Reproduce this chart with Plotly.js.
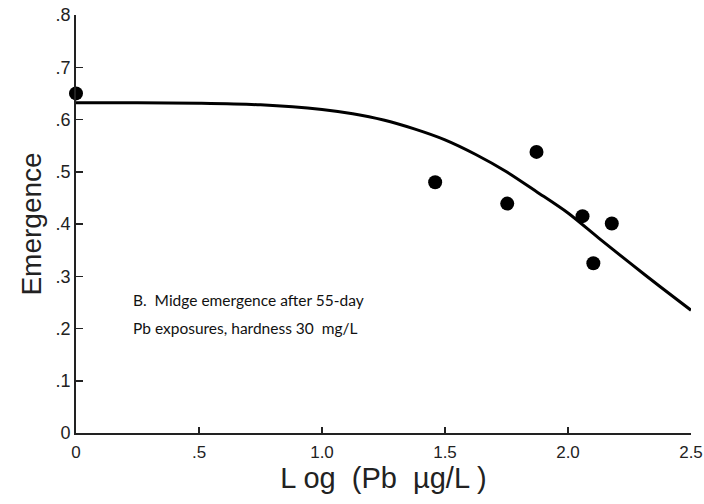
<!DOCTYPE html>
<html>
<head>
<meta charset="utf-8">
<script src="https://cdn.plot.ly/plotly-3.0.1.min.js"></script>
<style>html,body{margin:0;padding:0;background:#fff;}#chart{width:704px;height:504px;}</style>
</head>
<body>
<div id="chart"></div>
<script>
// Observed emergence data
const obsX = [0, 1.46, 1.753, 1.872, 2.059, 2.103, 2.178];
const obsY = [0.650, 0.480, 0.439, 0.538, 0.415, 0.325, 0.401];

// Fitted curve
const fitX = [0, 0.25, 0.5, 0.75, 1.0, 1.125, 1.25, 1.375, 1.5, 1.625, 1.75, 1.875, 2.0, 2.125, 2.25, 2.375, 2.5];
const fitY = [0.632, 0.632, 0.631, 0.628, 0.619, 0.611, 0.599, 0.582, 0.561, 0.533, 0.500, 0.461, 0.421, 0.373, 0.326, 0.280, 0.235];

const xTickVals = [0, 0.5, 1.0, 1.5, 2.0, 2.5];
const xTickText = ['0', '.5', '1.0', '1.5', '2.0', '2.5'];
const yTickVals = [0, 0.1, 0.2, 0.3, 0.4, 0.5, 0.6, 0.7, 0.8];
const yTickText = ['0', '.1', '.2', '.3', '.4', '.5', '.6', '.7', '.8'];

const noteLines = ['B.  Midge emergence after 55-day', 'Pb exposures, hardness 30  mg/L'];
const noteY = [0.255, 0.201];

const traces = [
  {x: fitX, y: fitY, type: 'scatter', mode: 'lines', line: {color: '#000', width: 3, shape: 'spline', smoothing: 0.8}, hoverinfo: 'skip', cliponaxis: false},
  {x: obsX, y: obsY, type: 'scatter', mode: 'markers', marker: {color: '#000', size: 14}, cliponaxis: false}
];

const layout = {
  width: 704, height: 504,
  margin: {l: 76, r: 13, t: 15, b: 71},
  paper_bgcolor: '#fff', plot_bgcolor: '#fff',
  showlegend: false,
  font: {family: 'Liberation Sans, Arial, sans-serif', color: '#222'},
  xaxis: {
    range: [0, 2.5], tickvals: xTickVals, ticktext: xTickText,
    ticks: 'inside', ticklen: 6, tickwidth: 1.5, tickcolor: '#222',
    showline: true, linecolor: '#222', linewidth: 2, showgrid: false, zeroline: false,
    tickfont: {size: 17, color: '#222'}, ticklabelstandoff: 3,
    title: {text: 'L og  (Pb  µg/L )', font: {size: 29, color: '#222'}, standoff: 3},
    automargin: false
  },
  yaxis: {
    range: [0, 0.8], tickvals: yTickVals, ticktext: yTickText,
    ticks: 'inside', ticklen: 7, tickwidth: 1.5, tickcolor: '#222',
    showline: true, linecolor: '#222', linewidth: 2, showgrid: false, zeroline: false,
    tickfont: {size: 18, color: '#222'},
    title: {text: 'Emergence', font: {size: 28, color: '#222'}, standoff: 6},
    automargin: false
  },
  annotations: noteLines.map((t, i) => ({
    x: 0.225, y: noteY[i], xref: 'x', yref: 'y', xanchor: 'left', yanchor: 'middle',
    text: t, showarrow: false, align: 'left',
    font: {family: 'Lato, Open Sans, sans-serif', size: 15.5, color: '#111'}
  }))
};

Plotly.newPlot('chart', traces, layout, {displayModeBar: false, staticPlot: true});
</script>
</body>
</html>
